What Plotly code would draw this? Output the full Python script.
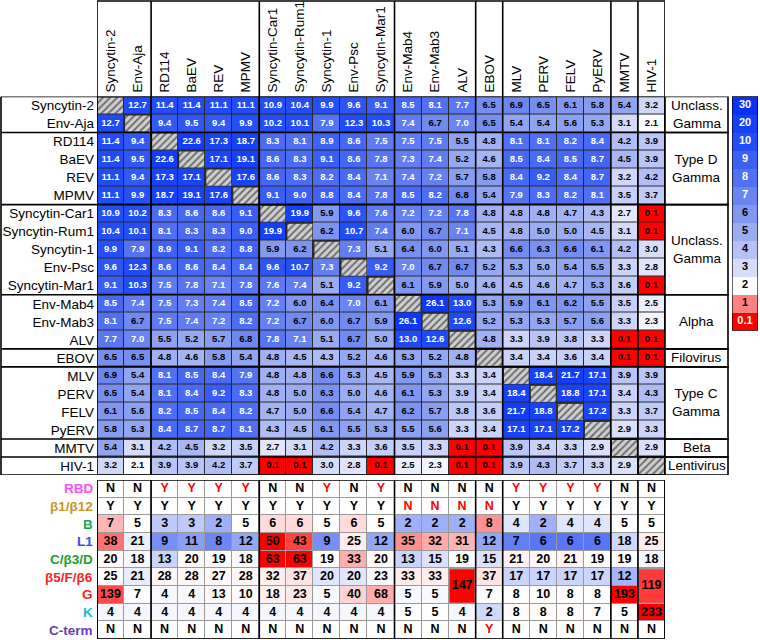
import numpy as np
import plotly.graph_objects as go
from plotly.colors import sample_colorscale

# ---------------- data ----------------
envs = ["Syncytin-2", "Env-Aja", "RD114", "BaEV", "REV", "MPMV", "Syncytin-Car1",
        "Syncytin-Rum1", "Syncytin-1", "Env-Psc", "Syncytin-Mar1", "Env-Mab4",
        "Env-Mab3", "ALV", "EBOV", "MLV", "PERV", "FELV", "PyERV", "MMTV", "HIV-1"]

group_names = ["Unclass.<br>Gamma", "Type D<br>Gamma", "Unclass.<br>Gamma", "Alpha",
               "Filovirus", "Type C<br>Gamma", "Beta", "Lentivirus"]
group_sizes = [2, 4, 5, 3, 1, 4, 1, 1]

N = None
identity = [
    [N, 12.7, 11.4, 11.4, 11.1, 11.1, 10.9, 10.4, 9.9, 9.6, 9.1, 8.5, 8.1, 7.7, 6.5, 6.9, 6.5, 6.1, 5.8, 5.4, 3.2],
    [12.7, N, 9.4, 9.5, 9.4, 9.9, 10.2, 10.1, 7.9, 12.3, 10.3, 7.4, 6.7, 7.0, 6.5, 5.4, 5.4, 5.6, 5.3, 3.1, 2.1],
    [11.4, 9.4, N, 22.6, 17.3, 18.7, 8.3, 8.1, 8.9, 8.6, 7.5, 7.5, 7.5, 5.5, 4.8, 8.1, 8.1, 8.2, 8.4, 4.2, 3.9],
    [11.4, 9.5, 22.6, N, 17.1, 19.1, 8.6, 8.3, 9.1, 8.6, 7.8, 7.3, 7.4, 5.2, 4.6, 8.5, 8.4, 8.5, 8.7, 4.5, 3.9],
    [11.1, 9.4, 17.3, 17.1, N, 17.6, 8.6, 8.3, 8.2, 8.4, 7.1, 7.4, 7.2, 5.7, 5.8, 8.4, 9.2, 8.4, 8.7, 3.2, 4.2],
    [11.1, 9.9, 18.7, 19.1, 17.6, N, 9.1, 9.0, 8.8, 8.4, 7.8, 8.5, 8.2, 6.8, 5.4, 7.9, 8.3, 8.2, 8.1, 3.5, 3.7],
    [10.9, 10.2, 8.3, 8.6, 8.6, 9.1, N, 19.9, 5.9, 9.6, 7.6, 7.2, 7.2, 7.8, 4.8, 4.8, 4.8, 4.7, 4.3, 2.7, 0.1],
    [10.4, 10.1, 8.1, 8.3, 8.3, 9.0, 19.9, N, 6.2, 10.7, 7.4, 6.0, 6.7, 7.1, 4.5, 4.8, 5.0, 5.0, 4.5, 3.1, 0.1],
    [9.9, 7.9, 8.9, 9.1, 8.2, 8.8, 5.9, 6.2, N, 7.3, 5.1, 6.4, 6.0, 5.1, 4.3, 6.6, 6.3, 6.6, 6.1, 4.2, 3.0],
    [9.6, 12.3, 8.6, 8.6, 8.4, 8.4, 9.6, 10.7, 7.3, N, 9.2, 7.0, 6.7, 6.7, 5.2, 5.3, 5.0, 5.4, 5.5, 3.3, 2.8],
    [9.1, 10.3, 7.5, 7.8, 7.1, 7.8, 7.6, 7.4, 5.1, 9.2, N, 6.1, 5.9, 5.0, 4.6, 4.5, 4.6, 4.7, 5.3, 3.6, 0.1],
    [8.5, 7.4, 7.5, 7.3, 7.4, 8.5, 7.2, 6.0, 6.4, 7.0, 6.1, N, 26.1, 13.0, 5.3, 5.9, 6.1, 6.2, 5.5, 3.5, 2.5],
    [8.1, 6.7, 7.5, 7.4, 7.2, 8.2, 7.2, 6.7, 6.0, 6.7, 5.9, 26.1, N, 12.6, 5.2, 5.3, 5.3, 5.7, 5.6, 3.3, 2.3],
    [7.7, 7.0, 5.5, 5.2, 5.7, 6.8, 7.8, 7.1, 5.1, 6.7, 5.0, 13.0, 12.6, N, 4.8, 3.3, 3.9, 3.8, 3.3, 0.1, 0.1],
    [6.5, 6.5, 4.8, 4.6, 5.8, 5.4, 4.8, 4.5, 4.3, 5.2, 4.6, 5.3, 5.2, 4.8, N, 3.4, 3.4, 3.6, 3.4, 0.1, 0.1],
    [6.9, 5.4, 8.1, 8.5, 8.4, 7.9, 4.8, 4.8, 6.6, 5.3, 4.5, 5.9, 5.3, 3.3, 3.4, N, 18.4, 21.7, 17.1, 3.9, 3.9],
    [6.5, 5.4, 8.1, 8.4, 9.2, 8.3, 4.8, 5.0, 6.3, 5.0, 4.6, 6.1, 5.3, 3.9, 3.4, 18.4, N, 18.8, 17.1, 3.4, 4.3],
    [6.1, 5.6, 8.2, 8.5, 8.4, 8.2, 4.7, 5.0, 6.6, 5.4, 4.7, 6.2, 5.7, 3.8, 3.6, 21.7, 18.8, N, 17.2, 3.3, 3.7],
    [5.8, 5.3, 8.4, 8.7, 8.7, 8.1, 4.3, 4.5, 6.1, 5.5, 5.3, 5.5, 5.6, 3.3, 3.4, 17.1, 17.1, 17.2, N, 2.9, 3.3],
    [5.4, 3.1, 4.2, 4.5, 3.2, 3.5, 2.7, 3.1, 4.2, 3.3, 3.6, 3.5, 3.3, 0.1, 0.1, 3.9, 3.4, 3.3, 2.9, N, 2.9],
    [3.2, 2.1, 3.9, 3.9, 4.2, 3.7, 0.1, 0.1, 3.0, 2.8, 0.1, 2.5, 2.3, 0.1, 0.1, 3.9, 4.3, 3.7, 3.3, 2.9, N],
]

legend_levels = [0.1, 1, 2, 3, 4, 5, 6, 7, 8, 9, 10, 20, 30]
legend_labels = ["0.1", "1", "2", "3", "4", "5", "6", "7", "8", "9", "10", "20", "30"]
level_colors = ["rgb(255,0,0)", "rgb(255,128,128)", "rgb(255,255,255)", "rgb(214,221,250)",
                "rgb(182,194,246)", "rgb(154,172,242)", "rgb(130,152,240)", "rgb(106,132,240)",
                "rgb(82,113,241)", "rgb(60,96,243)", "rgb(36,78,245)", "rgb(22,64,246)",
                "rgb(10,50,246)"]

features = ["RBD", "β1/β12", "B", "L1", "C/β3/D", "β5/F/β6", "G", "K", "C-term"]
feature_colors = ["rgb(250,80,250)", "rgb(200,150,40)", "rgb(30,170,70)", "rgb(40,80,255)",
                  "rgb(30,160,40)", "rgb(250,30,30)", "rgb(250,30,30)", "rgb(30,180,235)",
                  "rgb(110,60,180)"]
rbd = list("NNYYYYNNYNYNNNNYYYYNN")
b1b12 = list("YYYYYYYYYYYNNNNYYYYYY")
seg_B = [7, 5, 3, 3, 2, 5, 6, 6, 5, 6, 5, 2, 2, 2, 8, 4, 2, 4, 4, 5, 5]
seg_L1 = [38, 21, 9, 11, 8, 12, 50, 43, 9, 25, 12, 35, 32, 31, 12, 7, 6, 6, 6, 18, 25]
seg_C = [20, 18, 13, 20, 19, 18, 63, 63, 19, 33, 20, 13, 15, 19, 15, 21, 20, 21, 19, 19, 18]
seg_b5 = [25, 21, 28, 28, 27, 28, 32, 37, 20, 20, 23, 33, 33, 147, 37, 17, 17, 17, 17, 12, 119]
seg_G = [139, 7, 4, 4, 13, 10, 18, 23, 5, 40, 68, 5, 5, 147, 7, 8, 10, 8, 8, 193, 119]
seg_K = [4, 4, 4, 4, 4, 4, 4, 4, 4, 4, 4, 5, 5, 4, 2, 8, 8, 8, 7, 5, 233]
cterm = list("NNNNNNNNNNNNNNYNNNNNN")
table_rows = [rbd, b1b12, seg_B, seg_L1, seg_C, seg_b5, seg_G, seg_K, cterm]
highlight = {"RBD": "Y", "β1/β12": "N", "C-term": "Y"}
# (midpoint, span below, span above) for the per-row diverging shading
row_scale = {"B": (5, 7, 7), "L1": (23, 23, 27), "C/β3/D": (19, 25, 44),
             "β5/F/β6": (24, 30, 123), "G": (8, 100, 185), "K": (4.5, 12, 228)}
merged = {"ALV": ("β5/F/β6", "G"), "HIV-1": ("β5/F/β6", "G")}

# ---------------- geometry / style ----------------
W, H = 760, 640
FONT = "Liberation Sans, Arial, sans-serif"
def px(x): return x / W
def py(y): return 1 - y / H

n = len(envs)
nf = len(features)
idx = np.arange(n)
cum = np.concatenate([[0], np.cumsum(group_sizes)])

main_cs = [[k / 12, c] for k, c in enumerate(level_colors)]
pos = np.arange(len(legend_levels))
vals = np.array([[np.nan if v is None else v for v in row] for row in identity], dtype=float)
zmain = np.where(np.isnan(vals), np.nan, np.interp(np.nan_to_num(vals, nan=1), legend_levels, pos))

fig = go.Figure()

# main heatmap
fig.add_trace(go.Heatmap(z=zmain, x=idx, y=idx, colorscale=main_cs, zmin=0, zmax=12,
                         showscale=False, xgap=1, ygap=1, hoverinfo="skip",
                         xaxis="x", yaxis="y"))
# hatched diagonal
gx, gy = 0.04, 0.055
fig.add_trace(go.Bar(x=idx, y=[1 - 2 * gy] * n, base=idx - 0.5 + gy, width=1 - 2 * gx,
                     marker=dict(color="white", line=dict(width=0),
                                 pattern=dict(shape="/", fgcolor="#111", bgcolor="#cfcfcf",
                                              size=5, solidity=0.4)),
                     hoverinfo="skip", showlegend=False, xaxis="x", yaxis="y"))
# cell values
tx, ty, tt, tc = [], [], [], []
for r in range(n):
    for c in range(n):
        v = identity[r][c]
        if v is None:
            continue
        tx.append(c); ty.append(r); tt.append(f"<b>{v:.1f}</b>")
        tc.append("white" if v >= 7 else "black")
fig.add_trace(go.Scatter(x=tx, y=ty, text=tt, mode="text", textfont=dict(color=tc, size=9.5, family=FONT),
                         hoverinfo="skip", showlegend=False, xaxis="x", yaxis="y"))

# bottom table shading
bot_cs = [[0, "rgb(30,70,240)"], [0.5, "rgb(255,255,255)"], [1, "rgb(255,0,0)"]]
def norm(feat, v):
    mid, lo, hi = row_scale[feat]
    t = (v - mid) / hi if v >= mid else (v - mid) / lo
    return float(np.clip(t, -1, 1))

zt = np.zeros((nf, n))
merged_cols = {envs.index(k): (features.index(a), features.index(b)) for k, (a, b) in merged.items()}
for r, feat in enumerate(features):
    for c in range(n):
        v = table_rows[r][c]
        zt[r, c] = norm(feat, v) if feat in row_scale else 0.0
for c, (r0, r1) in merged_cols.items():
    zt[r0, c] = np.nan
    zt[r1, c] = np.nan

fig.add_trace(go.Heatmap(z=zt, x=idx, y=np.arange(nf), colorscale=bot_cs, zmin=-1, zmax=1,
                         showscale=False, xgap=1, ygap=1, hoverinfo="skip",
                         xaxis="x2", yaxis="y2"))
gy2 = 0.06
for c, (r0, r1) in merged_cols.items():
    v = table_rows[r0][c]
    col = sample_colorscale(bot_cs, [(norm(features[r0], v) + 1) / 2])[0]
    fig.add_trace(go.Bar(x=[c], y=[r1 - r0 + 1 - 2 * gy2], base=[r0 - 0.5 + gy2], width=1 - 2 * gx,
                         marker=dict(color=col, line=dict(width=0)), hoverinfo="skip",
                         showlegend=False, xaxis="x2", yaxis="y2"))

bx, by, bt, bc = [], [], [], []
for r, feat in enumerate(features):
    for c in range(n):
        v = table_rows[r][c]
        if c in merged_cols:
            r0, r1 = merged_cols[c]
            if r == r1:
                continue
            if r == r0:
                bx.append(c); by.append((r0 + r1) / 2); bt.append(f"<b>{v}</b>"); bc.append("black")
                continue
        bx.append(c); by.append(r); bt.append(f"<b>{v}</b>")
        bc.append("rgb(255,0,0)" if highlight.get(feat) == v else "black")
fig.add_trace(go.Scatter(x=bx, y=by, text=bt, mode="text", textfont=dict(color=bc, size=12.5, family=FONT),
                         hoverinfo="skip", showlegend=False, xaxis="x2", yaxis="y2"))

# legend column
nl = len(legend_levels)
zl = [[nl - 1 - k] for k in range(nl)]
fig.add_trace(go.Heatmap(z=zl, x=[0], y=np.arange(nl), colorscale=main_cs, zmin=0, zmax=12,
                         showscale=False, hoverinfo="skip", xaxis="x3", yaxis="y3"))
lab_txt = [f"<b>{legend_labels[nl - 1 - k]}</b>" for k in range(nl)]
lab_col = ["white" if (nl - 1 - k) >= 7 or (nl - 1 - k) == 0 else "black" for k in range(nl)]
fig.add_trace(go.Scatter(x=[0] * nl, y=np.arange(nl), text=lab_txt, mode="text",
                         textfont=dict(color=lab_col, size=11, family=FONT),
                         hoverinfo="skip", showlegend=False, xaxis="x3", yaxis="y3"))

# ---------------- axes ----------------
X0, X1 = 97, 665
Y0, Y1 = 96.5, 475
B0, B1 = 480, 639
fig.update_layout(
    width=W, height=H, margin=dict(l=0, r=0, t=0, b=0),
    paper_bgcolor="white", plot_bgcolor="#2a2a2a", barmode="overlay", showlegend=False,
    font=dict(family=FONT, color="black"),
    xaxis=dict(domain=[px(X0), px(X1)], range=[-0.5, n - 0.5], side="top", tickvals=list(idx),
               ticktext=envs, tickangle=-90, ticks="", showgrid=False, zeroline=False,
               tickfont=dict(size=13.5, family=FONT), ticklabelstandoff=3, fixedrange=True),
    yaxis=dict(domain=[py(Y1), py(Y0)], range=[n - 0.5, -0.5], tickvals=list(idx), ticktext=envs,
               ticks="", showgrid=False, zeroline=False, tickfont=dict(size=13.5, family=FONT),
               ticklabelstandoff=2, fixedrange=True),
    xaxis2=dict(domain=[px(X0), px(X1)], range=[-0.5, n - 0.5], showticklabels=False, ticks="",
                showgrid=False, zeroline=False, anchor="y2"),
    yaxis2=dict(domain=[py(B1), py(B0)], range=[nf - 0.5, -0.5], showticklabels=False, ticks="",
                showgrid=False, zeroline=False, anchor="x2"),
    xaxis3=dict(domain=[px(732), px(758)], range=[-0.5, 0.5], showticklabels=False, ticks="",
                showgrid=False, zeroline=False, anchor="y3"),
    yaxis3=dict(domain=[py(Y0 + 18 * nl), py(Y0)], range=[nl - 0.5, -0.5], showticklabels=False,
                ticks="", showgrid=False, zeroline=False, anchor="x3"),
)

shapes = []
LB = dict(color="black", width=1.6)
shapes.append(dict(type="rect", xref="x2", yref="y2", x0=-0.5, x1=n - 0.5, y0=-0.5, y1=nf - 0.5,
                   fillcolor="#9a9a9a", line=dict(width=0), layer="below"))
for c in cum:
    shapes.append(dict(type="line", xref="x", yref="paper", x0=c - 0.5, x1=c - 0.5,
                       y0=py(Y1), y1=py(1), line=LB))
    shapes.append(dict(type="line", xref="x2", yref="y2", x0=c - 0.5, x1=c - 0.5,
                       y0=-0.5, y1=nf - 0.5, line=LB))
    shapes.append(dict(type="line", xref="paper", yref="y", x0=px(1), x1=px(X1),
                       y0=c - 0.5, y1=c - 0.5, line=LB))
shapes.append(dict(type="line", xref="x", yref="paper", x0=-0.5, x1=n - 0.5, y0=py(1), y1=py(1), line=LB))
shapes.append(dict(type="line", xref="paper", yref="y", x0=px(1), x1=px(1), y0=-0.5, y1=n - 0.5, line=LB))
shapes.append(dict(type="rect", xref="x2", yref="y2", x0=-0.5, x1=n - 0.5, y0=-0.5, y1=nf - 0.5,
                   line=LB))
annotations = []
for g, name in enumerate(group_names):
    shapes.append(dict(type="rect", xref="paper", yref="y", x0=px(X1), x1=px(728),
                       y0=cum[g] - 0.5, y1=cum[g + 1] - 0.5, line=LB))
    annotations.append(dict(xref="paper", yref="y", x=px((X1 + 728) / 2), y=(cum[g] + cum[g + 1] - 1) / 2,
                            text=name, showarrow=False, font=dict(size=13.5, family=FONT, color="black"),
                            xanchor="center", yanchor="middle"))
shapes.append(dict(type="rect", xref="x3", yref="y3", x0=-0.5, x1=0.5, y0=-0.5, y1=nl - 0.5,
                   line=dict(color="black", width=1.2)))
for r, feat in enumerate(features):
    annotations.append(dict(xref="paper", yref="y2", x=px(95), y=r, text=f"<b>{feat}</b>",
                            showarrow=False, xanchor="right", yanchor="middle",
                            font=dict(size=13.5, family=FONT, color=feature_colors[r])))

fig.update_layout(shapes=shapes, annotations=annotations)
fig.write_html("out.html", config={"displayModeBar": False},
               post_script="document.body.style.margin='0';document.body.style.overflow='hidden';")
